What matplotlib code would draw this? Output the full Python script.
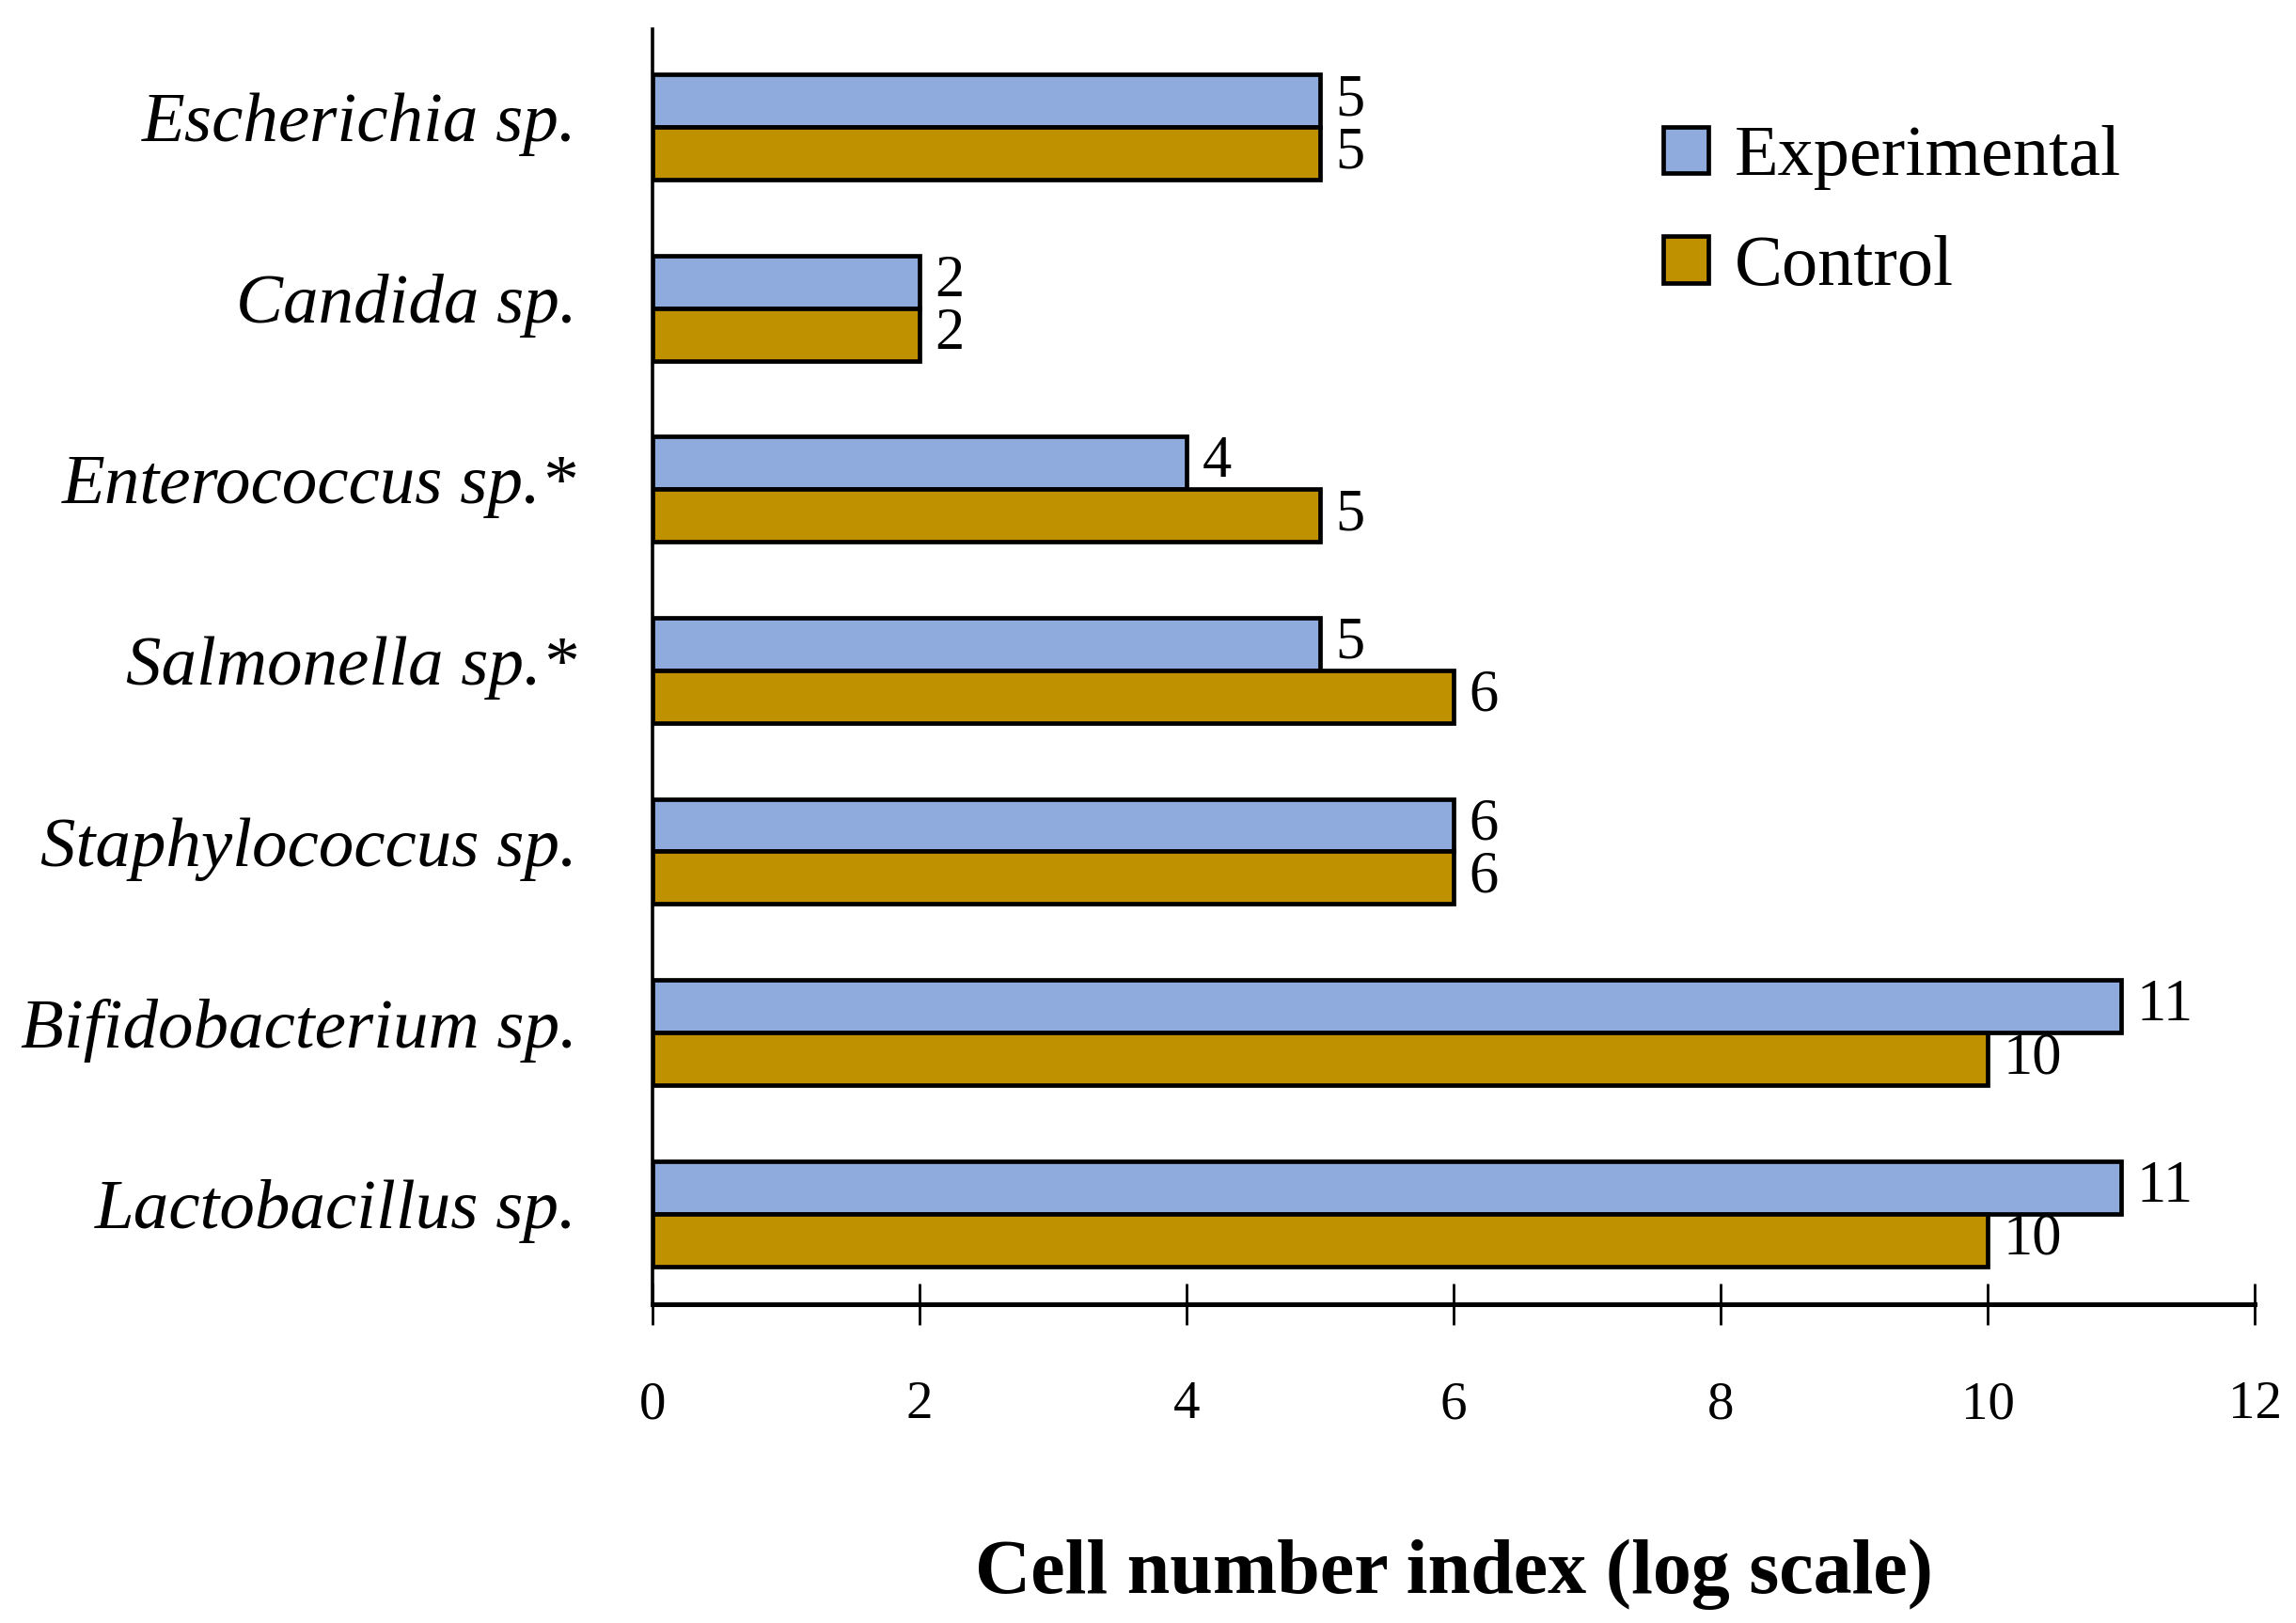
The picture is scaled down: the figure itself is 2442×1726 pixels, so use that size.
import matplotlib
matplotlib.use("Agg")
import matplotlib.pyplot as plt
import numpy as np

categories = ["Lactobacillus sp.", "Bifidobacterium sp.", "Staphylococcus sp.",
              "Salmonella sp.*", "Enterococcus sp.*", "Candida sp.", "Escherichia sp."]
experimental = [11, 11, 6, 5, 4, 2, 5]
control = [10, 10, 6, 6, 5, 2, 5]
xticks = [0, 2, 4, 6, 8, 10, 12]
series_names = ["Experimental", "Control"]
colors = ["#8FAADC", "#BF9000"]

plt.rcParams['font.family'] = ['Liberation Serif', 'DejaVu Serif']

fig = plt.figure(figsize=(24.42, 17.26), dpi=100)
ax = fig.add_axes([0.2842, 0.1964, 0.982 - 0.2842, 0.7856])

y = np.arange(len(categories))
h = 0.29
b1 = ax.barh(y + h / 2, experimental, height=h, color=colors[0], edgecolor='black',
             linewidth=3.4, label=series_names[0])
b2 = ax.barh(y - h / 2, control, height=h, color=colors[1], edgecolor='black',
             linewidth=3.4, label=series_names[1])

for bars, vals in ((b1, experimental), (b2, control)):
    for rect, v in zip(bars, vals):
        ax.annotate(str(v), (v, rect.get_y() + rect.get_height() / 2),
                    xytext=(12, 0), textcoords='offset points',
                    ha='left', va='center', fontsize=45)

ax.set_xlim(0, 12)
ax.set_ylim(-0.5, 6.54)
ax.set_xticks(xticks)
ax.set_xticklabels([str(t) for t in xticks], fontsize=41)
# labels sit slightly above the bar-pair centre (invisible ticks)
ax.set_yticks(y + 0.055)
ax.set_yticklabels(categories, fontsize=54, style='italic')

for s in ('top', 'right'):
    ax.spines[s].set_visible(False)
ax.spines['bottom'].set_linewidth(3.6)
ax.spines['left'].set_linewidth(2.6)
ax.tick_params(axis='x', direction='inout', length=31, width=2.0, pad=43)
ax.tick_params(axis='y', length=0, pad=58)

ax.set_xlabel("Cell number index (log scale)", fontsize=59, fontweight='bold', labelpad=84)

fig.legend(handles=[b1, b2], labels=series_names, loc='center left',
           bbox_to_anchor=(0.7244, 0.869), frameon=False, fontsize=55,
           handlelength=0.63, handleheight=0.62, handletextpad=0.36,
           labelspacing=0.62, borderpad=0, borderaxespad=0)

fig.savefig("out.png", dpi=100)
